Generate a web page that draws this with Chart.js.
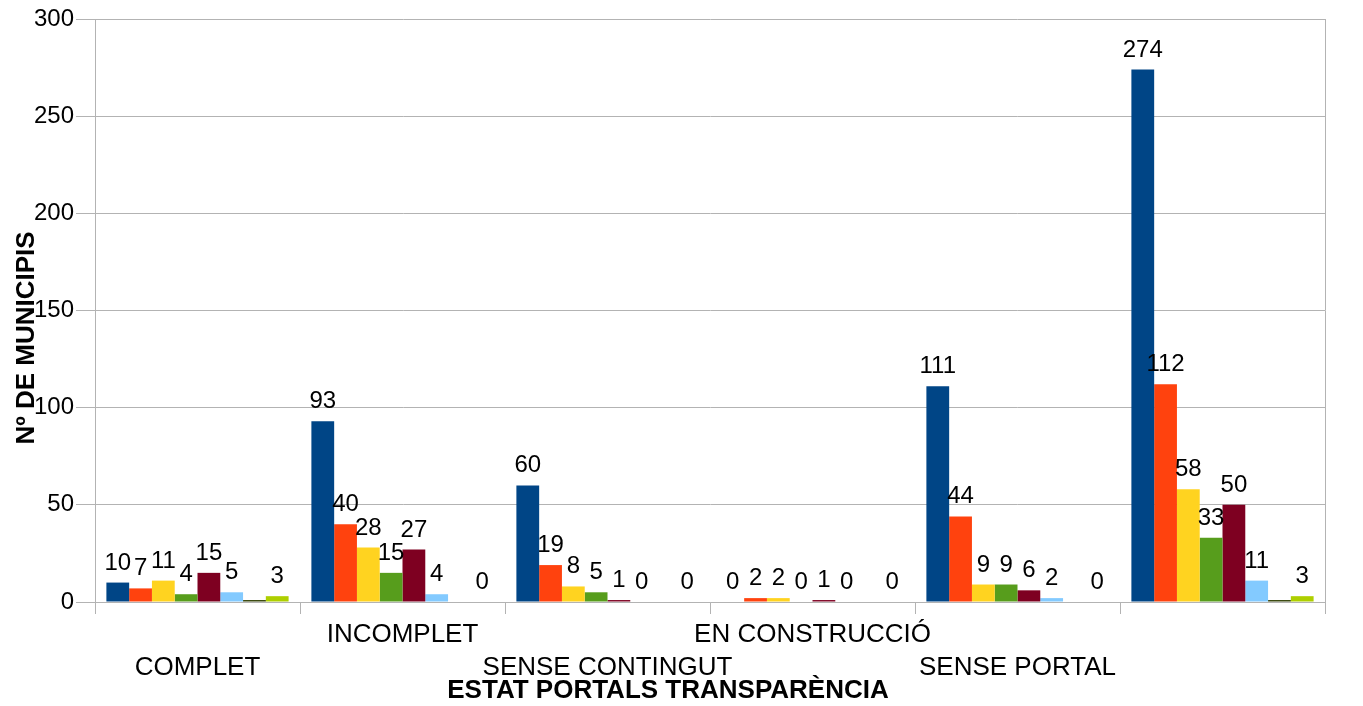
<!DOCTYPE html>
<html><head><meta charset="utf-8">
<script src="https://cdn.jsdelivr.net/npm/chart.js@4/dist/chart.umd.min.js"></script>
<style>html,body{margin:0;padding:0;background:#fff}#wrap{width:1363px;height:706px;position:relative}</style>
</head><body><div id="wrap"><canvas id="c"></canvas></div>
<script>
const categories = ["COMPLET", "INCOMPLET", "SENSE CONTINGUT", "EN CONSTRUCCIÓ", "SENSE PORTAL", ""];
const seriesNames = ["Sèrie 1", "Sèrie 2", "Sèrie 3", "Sèrie 4", "Sèrie 5", "Sèrie 6", "Sèrie 7", "Sèrie 8"];
const s1 = [10, 93, 60, 0, 111, 274];
const s2 = [7, 40, 19, 2, 44, 112];
const s3 = [11, 28, 8, 2, 9, 58];
const s4 = [4, 15, 5, 0, 9, 33];
const s5 = [15, 27, 1, 1, 6, 50];
const s6 = [5, 4, 0, 0, 2, 11];
const s7 = [1, 0, 0, 0, 0, 1];
const s8 = [3, 0, 0, 0, 0, 3];
const yTicks = [0, 50, 100, 150, 200, 250, 300];
const xTitle = "ESTAT PORTALS TRANSPARÈNCIA";
const yTitle = "Nº DE MUNICIPIS";

const colors = ["#004586", "#ff420e", "#ffd320", "#579d1c", "#7e0021", "#83caff", "#314004", "#aecf00"];
const allSeries = [s1, s2, s3, s4, s5, s6, s7, s8];
const labelled = [true, true, true, true, true, true, false, true];
const FONT = '"Liberation Sans", Arial, sans-serif';
const GRID = "#b3b3b3";

const datasets = allSeries.map((d, i) => ({
  label: seriesNames[i],
  data: d,
  backgroundColor: colors[i],
  borderWidth: 0,
  categoryPercentage: 8 / 9,
  barPercentage: 1.0,
  showValues: labelled[i]
}));

const valueLabels = {
  id: "valueLabels",
  afterDatasetsDraw(chart) {
    const ctx = chart.ctx;
    ctx.save();
    ctx.font = "24px " + FONT;
    ctx.fillStyle = "#000";
    ctx.textAlign = "center";
    ctx.textBaseline = "alphabetic";
    chart.data.datasets.forEach((ds, i) => {
      if (!ds.showValues) return;
      chart.getDatasetMeta(i).data.forEach((bar, j) => {
        ctx.fillText(String(ds.data[j]), bar.x, bar.y - 13);
      });
    });
    ctx.restore();
  }
};

const decorations = {
  id: "decorations",
  afterDraw(chart) {
    const ctx = chart.ctx;
    const a = chart.chartArea;
    ctx.save();
    ctx.strokeStyle = GRID;
    ctx.lineWidth = 1;
    ctx.beginPath();
    ctx.moveTo(Math.round(a.right) + 0.5, a.top);
    ctx.lineTo(Math.round(a.right) + 0.5, a.bottom);
    ctx.stroke();
    ctx.fillStyle = "#000";
    ctx.font = "bold 26px " + FONT;
    ctx.textAlign = "center";
    ctx.textBaseline = "middle";
    ctx.fillText(xTitle, 668, 691);
    ctx.translate(27, 338);
    ctx.rotate(-Math.PI / 2);
    ctx.fillText(yTitle, 0, 0);
    ctx.restore();
  }
};

new Chart(document.getElementById("c"), {
  type: "bar",
  data: { labels: categories, datasets },
  options: {
    responsive: true,
    maintainAspectRatio: false,
    animation: false,
    layout: { padding: { top: 19, right: 38, left: 0, bottom: 0 } },
    plugins: { legend: { display: false }, tooltip: { enabled: false } },
    scales: {
      x: {
        offset: true,
        grid: { display: true, drawOnChartArea: false, drawTicks: true, offset: true, tickLength: 12, color: GRID },
        border: { display: true, color: GRID },
        ticks: {
          autoSkip: false, maxRotation: 0, minRotation: 0, padding: 4, color: "#000",
          font: { family: FONT, size: 26, lineHeight: 1.27 },
          callback: function (v, i) {
            const l = categories[i];
            return i % 2 === 0 ? ["", l] : [l, ""];
          }
        },
        afterFit(scale) { scale.height = 104; }
      },
      y: {
        min: 0, max: 300,
        afterBuildTicks(scale) { scale.ticks = yTicks.map(v => ({ value: v })); },
        grid: { color: GRID, tickLength: 19, drawTicks: true },
        border: { display: true, color: GRID },
        ticks: { padding: 2, color: "#000", font: { family: FONT, size: 24 } },
        afterFit(scale) { scale.width = 95; }
      }
    }
  },
  plugins: [valueLabels, decorations]
});
</script>
</body></html>
